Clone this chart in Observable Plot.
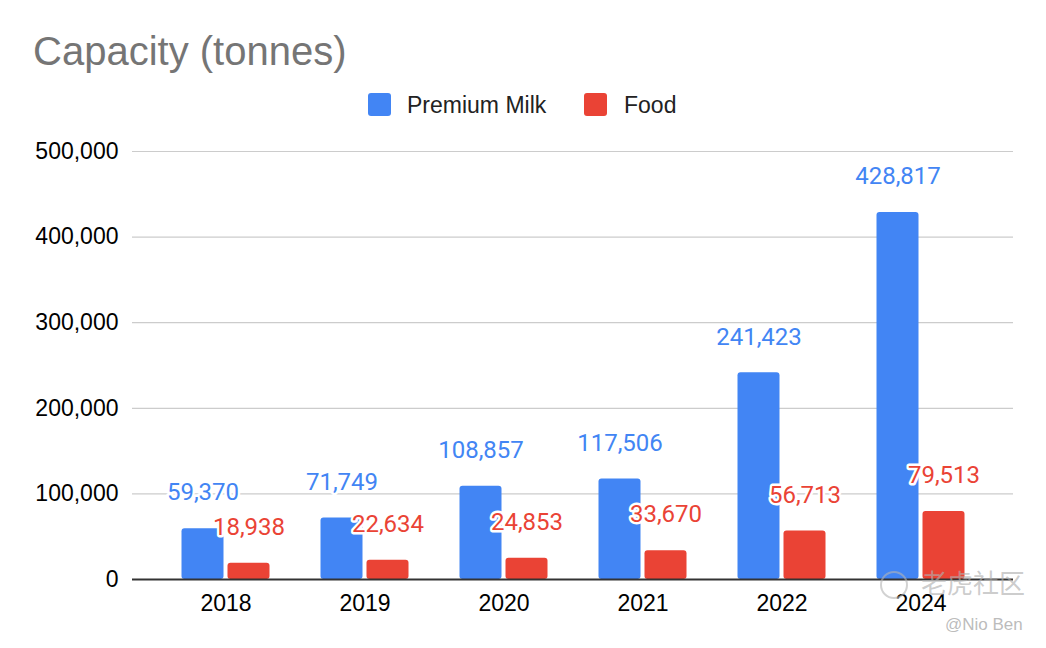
<!DOCTYPE html>
<html>
<head>
<meta charset="utf-8">
<script src="https://cdn.jsdelivr.net/npm/d3@7"></script>
<script src="https://cdn.jsdelivr.net/npm/@observablehq/plot@0.6"></script>
<style>
  html, body { margin: 0; padding: 0; background: #fff; }
  #wrap { position: relative; width: 1046px; height: 648px; overflow: hidden; font-family: "Liberation Sans", Arial, sans-serif; }
  #chart { position: absolute; left: 0; top: 0; }
  .title { position: absolute; left: 33px; top: 31px; font-size: 40px; line-height: 1; color: #757575; white-space: nowrap; }
  .sw { position: absolute; width: 23px; height: 23px; border-radius: 3px; }
  .lt { position: absolute; font-size: 23px; line-height: 1; color: #222; white-space: nowrap; }
  .wm { position: absolute; white-space: nowrap; line-height: 1; }
</style>
</head>
<body>
<div id="wrap">
  <div id="chart"></div>
  <div class="title">Capacity (tonnes)</div>
  <div class="sw" style="left:368px;top:93px;background:#4285F4"></div>
  <div class="lt" style="left:407px;top:94px">Premium Milk</div>
  <div class="sw" style="left:584px;top:93px;background:#EA4335"></div>
  <div class="lt" style="left:624px;top:94px">Food</div>
  <div class="wm" style="left:880px;top:571px;width:24px;height:24px;border:2px solid rgba(180,180,180,0.6);border-radius:50%"></div>
  <div class="wm" style="left:921px;top:569px;font-family:'Noto Sans CJK SC';font-size:26px;color:rgba(175,175,175,0.65)">老虎社区</div>
  <div class="wm" style="left:945px;top:616px;font-family:'Liberation Sans';font-size:17px;color:rgba(170,170,170,0.8)">@Nio Ben</div>
</div>
<script>
const years = ["2018", "2019", "2020", "2021", "2022", "2024"];
const premiumMilk = [59370, 71749, 108857, 117506, 241423, 428817];
const food = [18938, 22634, 24853, 33670, 56713, 79513];
const yTicks = [0, 100000, 200000, 300000, 400000, 500000];
const seriesNames = ["Premium Milk", "Food"];
const seriesColors = ["#4285F4", "#EA4335"];

const milkRows = years.map((y, i) => ({year: y, series: seriesNames[0], value: premiumMilk[i]}));
const foodRows = years.map((y, i) => ({year: y, series: seriesNames[1], value: food[i]}));
const fmt = d3.format(",");

const chart = Plot.plot({
  width: 1046,
  height: 648,
  marginLeft: 132,
  marginRight: 33,
  marginTop: 151,
  marginBottom: 69,
  style: {fontFamily: "'Liberation Sans', Arial, sans-serif", fontSize: "23px", color: "#000", background: "#fff"},
  x: {type: "band", domain: years, range: [155.5, 989.5], padding: 0, label: null},
  y: {domain: [0, 500000], label: null},
  marks: [
    Plot.ruleY(yTicks.filter(d => d > 0), {stroke: "#cccccc", strokeWidth: 1.2}),
    Plot.axisY({ticks: yTicks, tickFormat: fmt, tickSize: 0, tickPadding: 14, label: null, fontSize: 23, fill: "#000"}),
    Plot.axisX({tickSize: 0, tickPadding: 15, label: null, fontSize: 23, fill: "#000"}),
    Plot.barY(milkRows, {x: "year", y: "value", fill: seriesColors[0], insetLeft: 25.5, insetRight: 71.5, rx: 3}),
    Plot.barY(foodRows, {x: "year", y: "value", fill: seriesColors[1], insetLeft: 71.5, insetRight: 25.5, rx: 3}),
    Plot.ruleY([0], {stroke: "#333", strokeWidth: 2}),
    Plot.text(milkRows, {x: "year", y: "value", text: d => fmt(d.value), dx: -23, dy: -36, fill: seriesColors[0], stroke: "white", strokeWidth: 5, fontSize: 24, fontFamily: "Roboto", textAnchor: "middle", lineAnchor: "middle"}),
    Plot.text(foodRows, {x: "year", y: "value", text: d => fmt(d.value), dx: 23, dy: -36, fill: seriesColors[1], stroke: "white", strokeWidth: 5, fontSize: 24, fontFamily: "Roboto", textAnchor: "middle", lineAnchor: "middle"})
  ]
});
document.getElementById("chart").appendChild(chart);
</script>
</body>
</html>
